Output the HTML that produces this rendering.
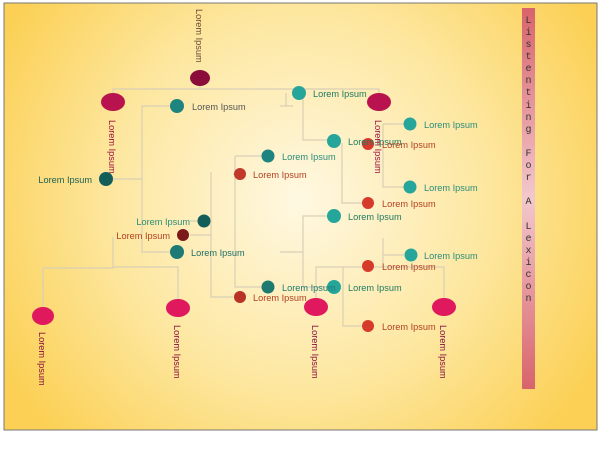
<!DOCTYPE html>
<html><head><meta charset="utf-8"><style>
html,body{margin:0;padding:0;background:#fff;width:600px;height:450px;overflow:hidden}
svg{display:block}
text{font-family:"Liberation Sans",sans-serif;font-size:9.2px}
.m text{font-family:"Liberation Mono",monospace;font-size:10px;fill:#333}
</style></head><body>
<svg width="600" height="450" viewBox="0 0 600 450">
<defs>
<radialGradient id="bg" cx="300" cy="200" r="340" gradientUnits="userSpaceOnUse">
<stop offset="0" stop-color="#fff8e2"/><stop offset="0.55" stop-color="#fde7a0"/><stop offset="1" stop-color="#fbd055"/>
</radialGradient>
<linearGradient id="sb" x1="0" y1="0" x2="0" y2="1">
<stop offset="0" stop-color="#d8636b"/><stop offset="0.5" stop-color="#f2c8cc"/><stop offset="1" stop-color="#d8636b"/>
</linearGradient>
</defs>
<rect x="4" y="3" width="593" height="427" fill="url(#bg)" stroke="#777" stroke-width="1"/>
<rect x="522" y="8" width="13" height="381" fill="url(#sb)"/>
<g class="m" text-anchor="middle">
<text x="528.5" y="23">L</text><text x="528.5" y="35">i</text><text x="528.5" y="47">s</text><text x="528.5" y="59">t</text><text x="528.5" y="71">e</text><text x="528.5" y="83">n</text><text x="528.5" y="95">t</text><text x="528.5" y="108">i</text><text x="528.5" y="120">n</text><text x="528.5" y="132">g</text>
<text x="528.5" y="156">F</text><text x="528.5" y="168">o</text><text x="528.5" y="180">r</text>
<text x="528.5" y="204">A</text>
<text x="528.5" y="229">L</text><text x="528.5" y="241">e</text><text x="528.5" y="253">x</text><text x="528.5" y="265">i</text><text x="528.5" y="277">c</text><text x="528.5" y="289">o</text><text x="528.5" y="301">n</text>
</g>
<g fill="none" stroke="#d9cfb6" stroke-width="1.2">
<path d="M200 86V89M113 93V89H379V93"/>
<path d="M286 93V106M280 106H293"/>
<path d="M170 106H142V252H170M113 179H142"/>
<path d="M211 221H190M190 235H211M211 172V297H233M233 174H235M235 156V287H262M235 156H262M235 174H233"/>
<path d="M113 237V268H43V307M113 267H178V299"/>
<path d="M303 93V140H327M361 144H375M383 124V187H404M383 124H404M342 143V203H362"/>
<path d="M327 216H303V287H327M280 252H303"/>
<path d="M316 298V267H444V298M343 267V326H362M383 238V267M383 255H404M405 267H411"/>
</g>
<ellipse cx="200" cy="78" rx="10" ry="8" fill="#8b0d3a"/>
<ellipse cx="113" cy="102" rx="12" ry="9" fill="#b8134f"/>
<ellipse cx="379" cy="102" rx="12" ry="9" fill="#b8134f"/>
<ellipse cx="43" cy="316" rx="11" ry="9" fill="#e0185e"/>
<ellipse cx="178" cy="308" rx="12" ry="9" fill="#e0185e"/>
<ellipse cx="316" cy="307" rx="12" ry="9" fill="#e0185e"/>
<ellipse cx="444" cy="307" rx="12" ry="9" fill="#e0185e"/>
<g>
<circle cx="177" cy="106" r="7" fill="#1e847f"/>
<circle cx="106" cy="179" r="7" fill="#145e5a"/>
<circle cx="204" cy="221" r="6.5" fill="#145e5a"/>
<circle cx="183" cy="235" r="6" fill="#7a1a1a"/>
<circle cx="177" cy="252" r="7" fill="#1e7a74"/>
<circle cx="268" cy="156" r="6.5" fill="#1e847f"/>
<circle cx="240" cy="174" r="6" fill="#c0392b"/>
<circle cx="268" cy="287" r="6.5" fill="#1e7a70"/>
<circle cx="240" cy="297" r="6" fill="#b83226"/>
<circle cx="299" cy="93" r="7" fill="#26a69a"/>
<circle cx="334" cy="141" r="7" fill="#26a69a"/>
<circle cx="368" cy="144" r="6" fill="#d63a2a"/>
<circle cx="410" cy="124" r="6.5" fill="#26a69a"/>
<circle cx="410" cy="187" r="6.5" fill="#26a69a"/>
<circle cx="368" cy="203" r="6" fill="#d63a2a"/>
<circle cx="334" cy="216" r="7" fill="#26a69a"/>
<circle cx="368" cy="266" r="6" fill="#d63a2a"/>
<circle cx="411" cy="255" r="6.5" fill="#26a69a"/>
<circle cx="334" cy="287" r="7" fill="#26a69a"/>
<circle cx="368" cy="326" r="6" fill="#d63a2a"/>
</g>
<g>
<text x="192" y="110" fill="#555">Lorem Ipsum</text>
<text x="92" y="183" text-anchor="end" fill="#1b5e50">Lorem Ipsum</text>
<text x="190" y="225" text-anchor="end" fill="#2a8c7a">Lorem Ipsum</text>
<text x="170" y="239" text-anchor="end" fill="#b04020">Lorem Ipsum</text>
<text x="191" y="256" fill="#1e6e66">Lorem Ipsum</text>
<text x="282" y="160" fill="#2a8c7a">Lorem Ipsum</text>
<text x="253" y="178" fill="#b04020">Lorem Ipsum</text>
<text x="282" y="291" fill="#1e7a70">Lorem Ipsum</text>
<text x="253" y="301" fill="#b04020">Lorem Ipsum</text>
<text x="313" y="97" fill="#1e7a60">Lorem Ipsum</text>
<text x="348" y="145" fill="#1e7a60">Lorem Ipsum</text>
<text x="382" y="148" fill="#b04020">Lorem Ipsum</text>
<text x="424" y="128" fill="#2a8c7a">Lorem Ipsum</text>
<text x="424" y="191" fill="#2a8c7a">Lorem Ipsum</text>
<text x="382" y="207" fill="#b04020">Lorem Ipsum</text>
<text x="348" y="220" fill="#1e7a60">Lorem Ipsum</text>
<text x="382" y="270" fill="#b04020">Lorem Ipsum</text>
<text x="424" y="259" fill="#2a8c7a">Lorem Ipsum</text>
<text x="348" y="291" fill="#1e7a60">Lorem Ipsum</text>
<text x="382" y="330" fill="#b04020">Lorem Ipsum</text>
</g>
<g>
<text transform="translate(196,9) rotate(90)" fill="#6b4a3a">Lorem Ipsum</text>
<text transform="translate(109,120) rotate(90)" fill="#a01040">Lorem Ipsum</text>
<text transform="translate(375,120) rotate(90)" fill="#a01040">Lorem Ipsum</text>
<text transform="translate(39,332) rotate(90)" fill="#8a1040">Lorem Ipsum</text>
<text transform="translate(174,325) rotate(90)" fill="#8a1040">Lorem Ipsum</text>
<text transform="translate(312,325) rotate(90)" fill="#8a1040">Lorem Ipsum</text>
<text transform="translate(440,325) rotate(90)" fill="#8a1040">Lorem Ipsum</text>
</g>
</svg>
</body></html>
